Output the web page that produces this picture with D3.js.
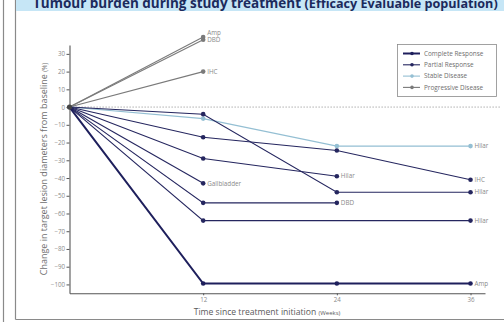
<!DOCTYPE html>
<html>
<head>
<meta charset="utf-8">
<script src="https://cdn.jsdelivr.net/npm/d3@7"></script>
<style>
  html, body { margin: 0; padding: 0; background: #fff; }
  svg { display: block; font-family: "Open Sans", "Noto Sans", sans-serif; }
</style>
</head>
<body>
<svg id="chart" width="504" height="322"></svg>
<script>
// Assessment weeks
const weeks = [0, 12, 24, 36];
const xTicks = [12, 24, 36];
const yTicks = [30, 20, 10, 0, -10, -20, -30, -40, -50, -60, -70, -80, -90, -100];

// Response categories (legend order)
const responseTypes = ["Complete Response", "Partial Response", "Stable Disease", "Progressive Disease"];

// One entry per patient: best response, % change at each week (null = not assessed), tumour label
const patientResponse = [
  "Complete Response",
  "Partial Response", "Partial Response", "Partial Response",
  "Partial Response", "Partial Response", "Partial Response",
  "Stable Disease",
  "Progressive Disease", "Progressive Disease", "Progressive Disease"
];
const patientChange = [
  [0, -99.5, -99.5, -99.5],
  [0, -4, -48, -48],
  [0, -17, -24.5, -41],
  [0, -29, -39, null],
  [0, -43, null, null],
  [0, -54, -54, null],
  [0, -64, null, -64],
  [0, -6.5, -22, -22],
  [0, 39.5, null, null],
  [0, 38, null, null],
  [0, 20, null, null]
];
const patientLabel = ["Amp", "Hilar", "IHC", "Hilar", "Gallbladder", "DBD", "Hilar", "Hilar", "Amp", "DBD", "IHC"];

const colour = d3.scaleOrdinal()
  .domain(responseTypes)
  .range(["#1e1f5c", "#25265f", "#94bfd3", "#7a7a7a"]);
const strokeW = d3.scaleOrdinal()
  .domain(responseTypes)
  .range([2, 1.1, 1.1, 1.1]);

const svg = d3.select("#chart");

// Page frame and title band
svg.append("line").attr("x1", 3.5).attr("x2", 3.5).attr("y1", 0).attr("y2", 322)
  .attr("stroke", "#8a8a8a").attr("stroke-width", 1.2);
svg.append("line").attr("x1", 15.5).attr("x2", 15.5).attr("y1", 0).attr("y2", 319.5)
  .attr("stroke", "#8a8a8a").attr("stroke-width", 1.2);
svg.append("line").attr("x1", 15.5).attr("x2", 504).attr("y1", 319.5).attr("y2", 319.5)
  .attr("stroke", "#8a8a8a").attr("stroke-width", 1.2);
svg.append("rect").attr("x", 16).attr("y", 0).attr("width", 488).attr("height", 11)
  .attr("fill", "#c6e6f6");
const title = svg.append("text").attr("x", 33).attr("y", 7.5)
  .attr("fill", "#1b2a5c").attr("font-weight", 700).attr("font-size", 13.5);
title.append("tspan").text("Tumour burden during study treatment ");
title.append("tspan").attr("font-size", 12.6).text("(Efficacy Evaluable population)");

// Scales
const x = d3.scaleLinear().domain([0, 37.3]).range([69.5, 485]);
const y = d3.scaleLinear().domain([-105, 35]).range([293.3, 45]);

// Axes
const yAxis = svg.append("g").attr("transform", `translate(${x(0)},0)`)
  .call(d3.axisLeft(y).tickValues(yTicks).tickSize(3).tickPadding(1.5).tickSizeOuter(0));
const xAxis = svg.append("g").attr("transform", `translate(0,${y.range()[0]})`)
  .call(d3.axisBottom(x).tickValues(xTicks).tickSize(2).tickPadding(2.5).tickSizeOuter(0));
[yAxis, xAxis].forEach(g => {
  g.select(".domain").attr("stroke", "#555").attr("stroke-width", 1.1);
  g.selectAll(".tick line").attr("stroke", "#555");
  g.selectAll(".tick text").attr("fill", "#8a8a8a").attr("font-size", 6.2)
    .attr("font-family", "Open Sans, sans-serif");
});

// Axis titles
const yTitle = svg.append("text")
  .attr("transform", `translate(47,${(y.range()[0] + y.range()[1]) / 2}) rotate(-90)`)
  .attr("text-anchor", "middle").attr("fill", "#6e6e6e").attr("font-size", 9);
yTitle.append("tspan").text("Change in target lesion diameters from baseline ");
yTitle.append("tspan").attr("font-size", 6.2).text("(%)");

const xTitle = svg.append("text").attr("x", 267).attr("y", 314.5)
  .attr("text-anchor", "middle").attr("fill", "#5a5a5a").attr("font-size", 8.6);
xTitle.append("tspan").text("Time since treatment initiation ");
xTitle.append("tspan").attr("font-size", 6).text("(Weeks)");

// Baseline reference
svg.append("line").attr("x1", x(0)).attr("x2", 500).attr("y1", y(0)).attr("y2", y(0))
  .attr("stroke", "#9a9a9a").attr("stroke-width", 0.9).attr("stroke-dasharray", "1.3,1.7");

// Patient trajectories
const patients = patientChange.map((vals, i) => ({
  response: patientResponse[i],
  label: patientLabel[i],
  pts: vals.map((v, j) => ({ week: weeks[j], value: v })).filter(d => d.value !== null)
}));

const line = d3.line().x(d => x(d.week)).y(d => y(d.value));

// Draw in reverse so the complete responder sits on top
const order = patients.slice().reverse();
const pg = svg.append("g").selectAll("g").data(order).join("g");
pg.append("path")
  .attr("d", d => line(d.pts))
  .attr("fill", "none")
  .attr("stroke", d => colour(d.response))
  .attr("stroke-width", d => strokeW(d.response));
pg.selectAll("circle").data(d => d.pts.slice(1).map(p => ({ ...p, response: d.response })))
  .join("circle")
  .attr("cx", p => x(p.week)).attr("cy", p => y(p.value))
  .attr("r", 2.3)
  .attr("fill", p => colour(p.response));

// Shared origin marker
svg.append("circle").attr("cx", x(0)).attr("cy", y(0)).attr("r", 2.6).attr("fill", "#444");

// End-point labels, nudged apart where they would overlap
const labels = patients.map(p => {
  const last = p.pts[p.pts.length - 1];
  return { text: p.label, x: x(last.week) + 4, y: y(last.value), week: last.week };
});
d3.groups(labels, l => l.week).forEach(([, grp]) => {
  grp.sort((a, b) => a.y - b.y);
  for (let k = 1; k < grp.length; k++) {
    const gap = grp[k].y - grp[k - 1].y;
    if (gap < 7) {
      grp[k - 1].y -= 4.5;
      grp[k].y += 7 - gap - 4.5 > 0 ? 7 - gap - 4.5 : 0.5;
    }
  }
});
svg.append("g").selectAll("text").data(labels).join("text")
  .attr("x", d => d.x).attr("y", d => d.y).attr("dy", "0.35em")
  .attr("fill", "#8a8a8a").attr("font-size", 6.3)
  .text(d => d.text);

// Legend
const lg = svg.append("g").attr("transform", "translate(397,44)");
lg.append("rect").attr("x", 0.5).attr("y", 0.5).attr("width", 99).attr("height", 52)
  .attr("fill", "#fff").attr("stroke", "#8a8a8a").attr("stroke-width", 0.8);
const li = lg.selectAll("g.item").data(responseTypes).join("g")
  .attr("class", "item")
  .attr("transform", (d, i) => `translate(0,${9.5 + i * 11.3})`);
li.append("line").attr("x1", 6).attr("x2", 23).attr("y1", 0).attr("y2", 0)
  .attr("stroke", d => colour(d)).attr("stroke-width", d => strokeW(d));
li.append("circle").attr("cx", 15).attr("cy", 0).attr("r", 1.8).attr("fill", d => colour(d));
li.append("text").attr("x", 27).attr("y", 0).attr("dy", "0.35em")
  .attr("fill", "#6e6e6e").attr("font-size", 6.4).text(d => d);
</script>
</body>
</html>
